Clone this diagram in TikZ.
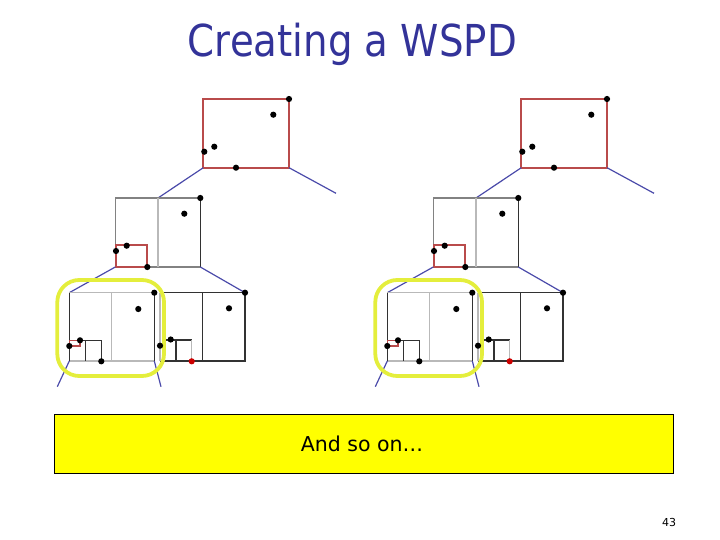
\documentclass[tikz,border=0pt]{standalone}
\usepackage{fontspec}
\setmainfont{DejaVu Sans}
\usepackage{graphicx}
\definecolor{titleblue}{RGB}{51,51,153}
\definecolor{redbox}{RGB}{185,75,75}
\definecolor{linkblue}{RGB}{75,75,170}
\definecolor{glight}{RGB}{185,185,185}
\definecolor{gmid}{RGB}{130,130,130}
\definecolor{gdark}{RGB}{50,50,50}
\definecolor{hilite}{RGB}{228,238,60}
\definecolor{boxyellow}{RGB}{255,255,0}
\tikzset{
  rbox/.style={draw=redbox, line width=1.8pt},
  link/.style={draw=linkblue, line width=1.2pt},
  glt/.style={draw=glight, line width=1.4pt},
  gmd/.style={draw=gmid, line width=1.3pt},
  dk/.style={draw=gdark, line width=1.3pt},
  hl/.style={draw=hilite, line width=3.8pt, rounded corners=22pt},
  pt/.style={circle, fill=black, inner sep=0pt, minimum size=6.2pt},
  rpt/.style={circle, fill=red!80!black, inner sep=0pt, minimum size=6.2pt},
}
\begin{document}
\begin{tikzpicture}[x=1pt,y=-1pt]
\useasboundingbox (0,0) rectangle (720,540);
\node[text=titleblue, font=\fontsize{44}{50}\selectfont] (title) at (352.5,44) {\scalebox{0.88}[1]{Creating a WSPD}};
\foreach \dx in {0,318} {
\begin{scope}[xshift=\dx pt]
% top box
\draw[rbox] (203.3,99) rectangle (289,167.7);
\draw[link] (203.3,167.7) -- (158,198);
\draw[link] (289,167.7) -- (336,193.3);
% middle box
\draw[gmd] (200.3,198) -- (115.3,198) -- (115.3,267) -- (200.3,267);
\draw[glt] (158,198) -- (158,267);
\draw[dk] (200.3,198) -- (200.3,267);
\draw[rbox] (115.7,245) rectangle (147.3,267);
\draw[link] (115.3,267) -- (69.3,292.7);
\draw[link] (200.3,267) -- (245,292.7);
% bottom left box
\draw[glt] (69.3,292.7) -- (154.3,292.7);
\draw[glt] (69.3,361) -- (154.3,361);
\draw[glt] (111.7,292.7) -- (111.7,361);
\draw[dk] (69.3,292.7) -- (69.3,361);
\draw[dk] (154.3,292.7) -- (154.3,361);
\draw[rbox, line width=1.3pt] (69.3,340.3) rectangle (80,346);
\draw[dk] (80,340.3) -- (101.3,340.3) -- (101.3,361);
\draw[dk] (85.7,340.3) -- (85.7,361);
% bottom right box
\draw[dk] (160,292.7) -- (245,292.7) -- (245,361) -- (160,361);
\draw[glt] (160,292.7) -- (160,361);
\draw[dk] (202.3,292.7) -- (202.3,361);
\draw[dk] (160,345.7) -- (165,345.7) -- (165,340) -- (191.7,340);
\draw[glt] (191.7,340) -- (191.7,361);
\draw[dk, line width=2pt] (175.7,340) -- (175.7,361);
% lower links
\draw[link] (69.3,361) -- (57.3,386.7);
\draw[link] (154.3,361) -- (161,386.7);
% highlight
\draw[hl] (57.3,280) rectangle (164,376);
% points
\foreach \p in {(289,99),(273.3,114.7),(214.3,146.7),(204.3,151.7),(236,167.7),
  (200.3,198),(184.3,213.7),(126.7,245.7),(116,251),(147.3,267),
  (154.3,292.7),(138.3,309),(80,340.3),(69.3,346),(101.3,361.3),
  (245,292.7),(229,308.3),(170.7,339.5),(160,345.7)}
  \node[pt] at \p {};
\node[rpt] at (191.7,361.3) {};
\end{scope}
}
% bottom yellow box
\node[draw=black, line width=1pt, fill=boxyellow, minimum width=618.7pt, minimum height=59pt, inner sep=0pt] (note) at (363.65,443.8) {};
\node[font=\fontsize{20.5}{24}\selectfont] (notetext) at (362,444) {And so on…};
\node[font=\fontsize{11}{13}\selectfont] (pagenum) at (669,522) {43};
\end{tikzpicture}
\end{document}
